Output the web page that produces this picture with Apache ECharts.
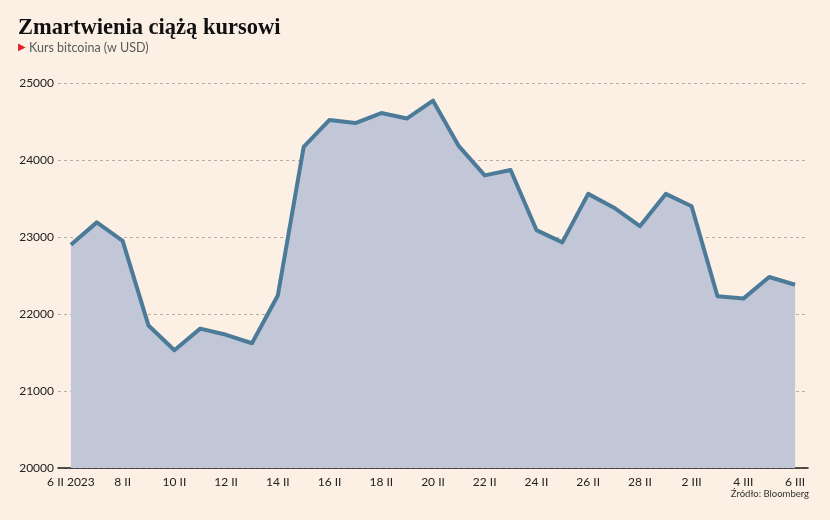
<!DOCTYPE html>
<html>
<head>
<meta charset="utf-8">
<script src="https://cdn.jsdelivr.net/npm/echarts@6/dist/echarts.min.js"></script>
<style>
html,body{margin:0;padding:0;background:#fcefe3;}
#c{width:830px;height:520px;}
</style>
</head>
<body>
<div id="c"></div>
<script>
const categories = ['6 II 2023','7 II','8 II','9 II','10 II','11 II','12 II','13 II','14 II','15 II','16 II','17 II','18 II','19 II','20 II','21 II','22 II','23 II','24 II','25 II','26 II','27 II','28 II','1 III','2 III','3 III','4 III','5 III','6 III'];
const prices = [22900,23190,22950,21850,21530,21810,21730,21620,22240,24170,24520,24480,24610,24540,24770,24180,23800,23870,23090,22930,23560,23380,23140,23560,23400,22230,22200,22480,22380];
const yTicks = [20000,21000,22000,23000,24000,25000];
const title = 'Zmartwienia ciążą kursowi';
const subtitle = 'Kurs bitcoina (w USD)';
const source = 'Źródło: Bloomberg';

const chart = echarts.init(document.getElementById('c'), null, {renderer:'canvas'});
chart.setOption({
  backgroundColor:'#fcefe3',
  animation:false,
  title:[
    {text:title,left:18,top:17,padding:0,textStyle:{fontFamily:'Liberation Serif',fontWeight:'bold',fontSize:22.5,color:'#111'}},
    {text:'▶',left:18,top:42,padding:0,textStyle:{fontFamily:'DejaVu Sans',fontSize:10,color:'#e3202a',fontWeight:'normal'}},
    {text:subtitle,left:29,top:41,padding:0,textStyle:{fontFamily:'Lato',fontSize:12.5,color:'#5a5a5a',fontWeight:'normal'}},
    {text:source,right:21,top:489,padding:0,textStyle:{fontFamily:'Lato',fontSize:9.5,color:'#333',fontWeight:'normal'}}
  ],
  grid:{left:58,right:22,top:83,bottom:52,containLabel:false},
  xAxis:{
    type:'category',
    data:categories,
    boundaryGap:true,
    axisLine:{show:true,lineStyle:{color:'#1a1a1a',width:1.5}},
    axisTick:{show:false},
    axisLabel:{interval:1,color:'#222',fontFamily:'Lato',fontSize:12,margin:8}
  },
  yAxis:{
    type:'value',
    min:yTicks[0],
    max:yTicks[yTicks.length-1],
    interval:1000,
    axisLine:{show:false},
    axisTick:{show:false},
    axisLabel:{color:'#222',fontFamily:'Lato',fontSize:12,margin:4,formatter:v=>String(v)},
    splitLine:{show:true,lineStyle:{color:'#b9aea6',type:[3,3],width:1}}
  },
  series:[{
    type:'line',
    data:prices,
    symbol:'none',
    lineStyle:{color:'#4b7b98',width:4,join:'round'},
    areaStyle:{color:'#c1c7d6',opacity:1},
    z:3
  }]
});
</script>
</body>
</html>
